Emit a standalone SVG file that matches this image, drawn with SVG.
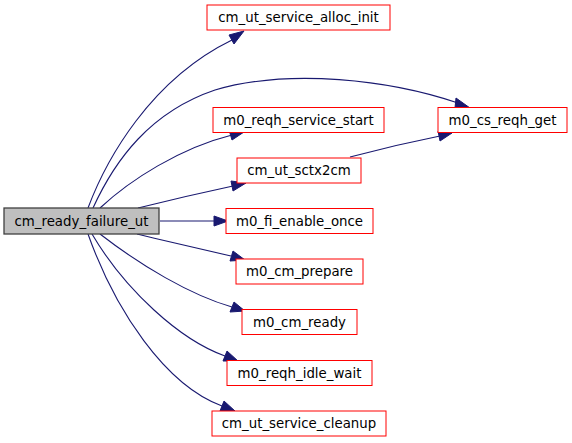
<svg xmlns="http://www.w3.org/2000/svg" width="572" height="443" viewBox="0 0 572 443">
<defs>
<style>
.n rect{fill:#ffffff;stroke:#ff0000;stroke-width:1}
.m rect{fill:#bfbfbf;stroke:#404040;stroke-width:1.3}
text{font-family:"DejaVu Sans",sans-serif;font-size:13.33px;fill:#000000;text-anchor:middle}
.e path{fill:none;stroke:#191970;stroke-width:1.1}
.e polygon{fill:#191970;stroke:#191970}
</style>
</defs>
<rect width="572" height="443" fill="#ffffff"/>
<g class="e" id="connectors">
<path d="M88,208 C106,160 150,80 232,40"/>
<polygon points="229,35 244,31 234,44"/>
<path d="M93,208 C115,160 150,112 215,90 C290,68 390,80 458,103"/>
<polygon points="456,98 470,108 455,108"/>
<path d="M100,208 C130,180 180,148 232,135"/>
<polygon points="229,130 244,132 232,140"/>
<path d="M138,208 C170,200 205,192 233,186"/>
<polygon points="231,181 246,183 233,191"/>
<path d="M160,221 L214,221"/>
<polygon points="214,216 228,221 214,226"/>
<path d="M137,234 C170,242 205,250 231,256"/>
<polygon points="233,251 245,260 230,261"/>
<path d="M100,234 C140,265 190,295 232,307"/>
<polygon points="234,302 245,311 230,312"/>
<path d="M92,234 C125,290 180,340 225,356"/>
<polygon points="227,351 238,361 223,361"/>
<path d="M88,234 C115,310 165,385 222,406"/>
<polygon points="224,401 235,411 220,411"/>
<path d="M350,157 C380,149 410,142 440,136"/>
<polygon points="438,131 452,133 440,141"/>
</g>
<g class="m" id="cm_ready_failure_ut"><rect x="4" y="208" width="155" height="26"/><text x="81.5" y="225.5">cm_ready_failure_ut</text></g>
<g class="n" id="cm_ut_service_alloc_init"><rect x="207" y="5" width="183" height="25"/><text x="298.5" y="22">cm_ut_service_alloc_init</text></g>
<g class="n" id="m0_reqh_service_start"><rect x="213" y="107.5" width="171" height="25"/><text x="298.5" y="124.5">m0_reqh_service_start</text></g>
<g class="n" id="m0_cs_reqh_get"><rect x="438" y="107.5" width="129" height="25"/><text x="502.5" y="124.5">m0_cs_reqh_get</text></g>
<g class="n" id="cm_ut_sctx2cm"><rect x="237" y="158" width="124" height="25"/><text x="299" y="175">cm_ut_sctx2cm</text></g>
<g class="n" id="m0_fi_enable_once"><rect x="226" y="208.5" width="147" height="25"/><text x="299.5" y="225.5">m0_fi_enable_once</text></g>
<g class="n" id="m0_cm_prepare"><rect x="236" y="259" width="127" height="25"/><text x="299.5" y="276">m0_cm_prepare</text></g>
<g class="n" id="m0_cm_ready"><rect x="242" y="309.5" width="115" height="25"/><text x="299.5" y="326.5">m0_cm_ready</text></g>
<g class="n" id="m0_reqh_idle_wait"><rect x="227" y="360.5" width="145" height="25"/><text x="299.5" y="377.5">m0_reqh_idle_wait</text></g>
<g class="n" id="cm_ut_service_cleanup"><rect x="212" y="411" width="174" height="25"/><text x="299" y="428">cm_ut_service_cleanup</text></g>
</svg>
